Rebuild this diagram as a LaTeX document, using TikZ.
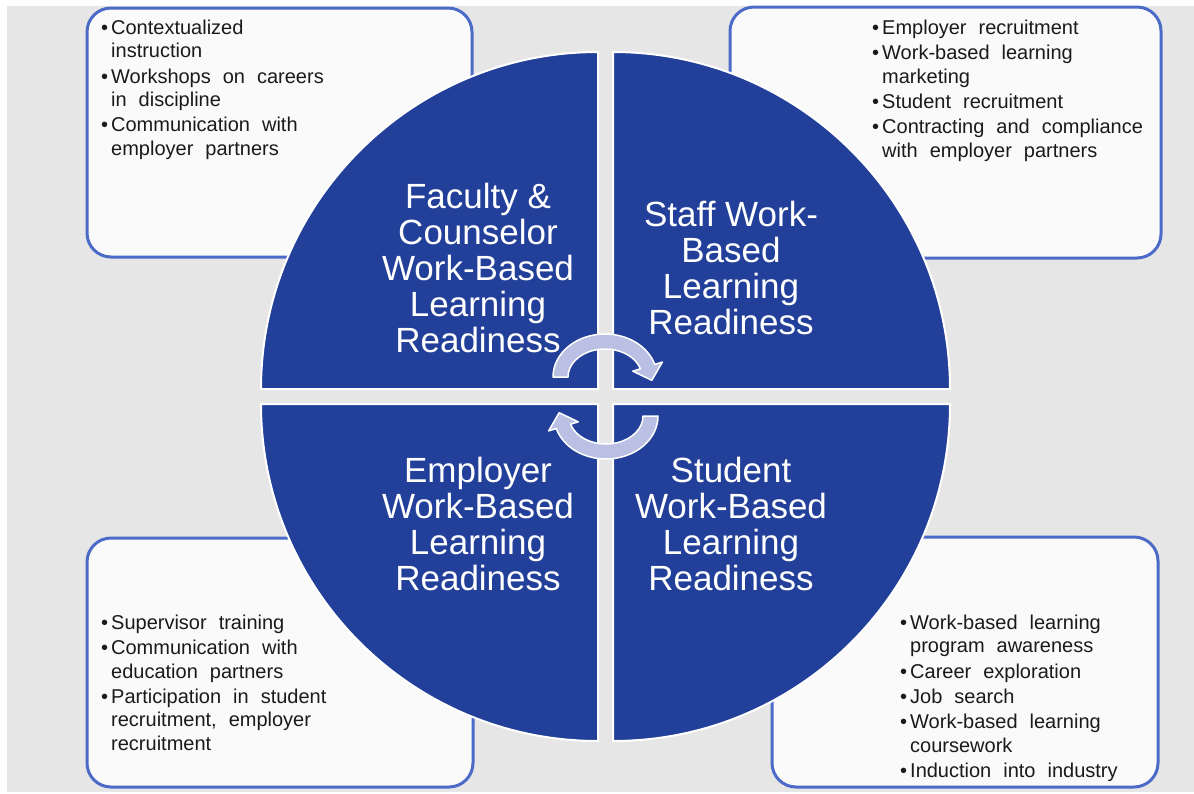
\documentclass[tikz,border=0pt]{standalone}
\usepackage{fontspec}
\setmainfont{Liberation Sans}
\usepackage{array}

\definecolor{wblblue}{HTML}{223F99}
\definecolor{boxedge}{HTML}{4C6AC8}
\definecolor{boxfill}{HTML}{FAFAFA}
\definecolor{backgray}{HTML}{E6E6E6}
\definecolor{arrowfill}{HTML}{B9C0E3}
\definecolor{listtext}{HTML}{1A1A1A}

\newcommand{\bul}{\textbullet}

\begin{document}
\begin{tikzpicture}[x=1pt, y=1pt,
  infobox/.style={draw=boxedge, line width=3pt, fill=boxfill, rounded corners=24pt},
  quarter/.style={fill=wblblue, draw=white, line width=2pt},
  quadlabel/.style={text=white, align=center, font=\fontsize{35}{36}\selectfont, inner sep=0pt},
  bullets/.style={text=listtext, font=\fontsize{20}{23.3}\selectfont, inner sep=0pt, anchor=north west,
    execute at begin node={\spaceskip=12pt\relax}},
  cycarrow/.style={fill=arrowfill, draw=white, line width=1.5pt, line join=round}]

\useasboundingbox (0,0) rectangle (1194,-793);
% Background
\fill[backgray] (7,-6) rectangle (1194,-792);

% Boxes behind the circle
\draw[infobox] (87,-8) rectangle (472,-257);
\draw[infobox] (730,-7) rectangle (1161,-258);
\draw[infobox] (87,-538) rectangle (473,-787);
\draw[infobox] (772,-537) rectangle (1158,-787);

% Bullet lists
\node[bullets] (facultylist) at (101,-18) {\begin{tabular}{@{}p{10pt}@{}l@{}}
\bul & Contextualized\\
     & instruction\\[2pt]
\bul & Workshops on careers\\
     & in discipline\\[2pt]
\bul & Communication with\\
     & employer partners
\end{tabular}};
\node[bullets] (stafflist) at (872,-18) {\begin{tabular}{@{}p{10pt}@{}l@{}}
\bul & Employer recruitment\\[2pt]
\bul & Work-based learning\\
     & marketing\\[2pt]
\bul & Student recruitment\\[2pt]
\bul & Contracting and compliance\\
     & with employer partners
\end{tabular}};
\node[bullets] (employerlist) at (101,-613) {\begin{tabular}{@{}p{10pt}@{}l@{}}
\bul & Supervisor training\\[2pt]
\bul & Communication with\\
     & education partners\\[2pt]
\bul & Participation in student\\
     & recruitment, employer\\
     & recruitment
\end{tabular}};
\node[bullets] (studentlist) at (900,-613) {\begin{tabular}{@{}p{10pt}@{}l@{}}
\bul & Work-based learning\\
     & program awareness\\[2pt]
\bul & Career exploration\\[2pt]
\bul & Job search\\[2pt]
\bul & Work-based learning\\
     & coursework\\[2pt]
\bul & Induction into industry
\end{tabular}};

% Circle in four quarters
\draw[quarter] (598,-389) -- (261,-389) arc[start angle=180, end angle=90, radius=337] -- cycle;
\draw[quarter] (613,-389) -- (613,-52) arc[start angle=90, end angle=0, radius=337] -- cycle;
\draw[quarter] (613,-404) -- (950,-404) arc[start angle=0, end angle=-90, radius=337] -- cycle;
\draw[quarter] (598,-404) -- (598,-741) arc[start angle=-90, end angle=-180, radius=337] -- cycle;

\node[quadlabel] (faculty) at (478,-268) {Faculty \&\\Counselor\\Work-Based\\Learning\\Readiness};
\node[quadlabel] (staff) at (731,-268) {Staff Work-\\Based\\Learning\\Readiness};
\node[quadlabel] (employer) at (478,-524) {Employer\\Work-Based\\Learning\\Readiness};
\node[quadlabel] (student) at (731,-524) {Student\\Work-Based\\Learning\\Readiness};

% Cycle arrows
\foreach \turn in {0,180} {
  \begin{scope}[rotate around={\turn:(605.5,-396.5)}]
    \draw[cycarrow] ([shift={(605,-377)}]180:52 and 43)
      arc[start angle=180, end angle=17, x radius=52, y radius=43]
      -- ([shift={(605,-377)}]17:60 and 51)
      -- ([shift={(605,-377)}]-5:47 and 38)
      -- ([shift={(605,-377)}]17:29 and 20)
      -- ([shift={(605,-377)}]17:37 and 28)
      arc[start angle=17, end angle=180, x radius=37, y radius=28] -- cycle;
  \end{scope}
}
\end{tikzpicture}
\end{document}
